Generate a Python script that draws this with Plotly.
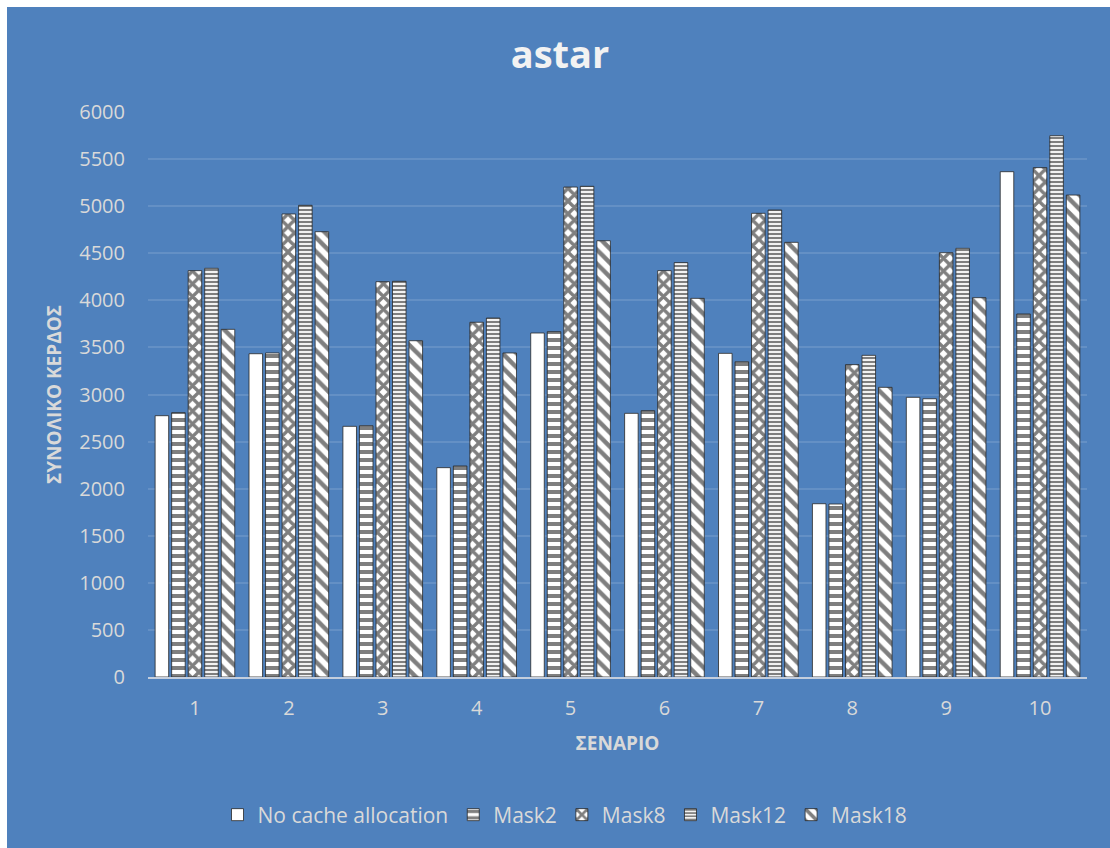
import plotly.graph_objects as go

# Scenarios on the x axis
scenarios = ["1", "2", "3", "4", "5", "6", "7", "8", "9", "10"]

# Total gain per scenario for each cache configuration
no_cache = [2775, 3433, 2662, 2223, 3653, 2800, 3437, 1840, 2970, 5366]
mask2 = [2807, 3441, 2669, 2241, 3667, 2828, 3348, 1837, 2955, 3855]
mask8 = [4315, 4917, 4198, 3767, 5203, 4315, 4924, 3317, 4506, 5409]
mask12 = [4340, 5009, 4202, 3812, 5211, 4400, 4959, 3416, 4552, 5748]
mask18 = [3692, 4729, 3571, 3441, 4633, 4021, 4616, 3076, 4028, 5118]

series_names = ["No cache allocation", "Mask2", "Mask8", "Mask12", "Mask18"]
series_values = [no_cache, mask2, mask8, mask12, mask18]

# Fill patterns for each series (shape, size, solidity)
patterns = [
    ("", 8, 0.3),
    ("-", 8, 0.5),
    ("x", 9, 0.6),
    ("-", 4, 0.55),
    ("\\", 10, 0.45),
]

BLUE = "#4F81BD"
TEXT = "#D9D9D9"
FONT = "Open Sans"

fig = go.Figure()
for name, vals, (shape, size, solid) in zip(series_names, series_values, patterns):
    fig.add_trace(go.Bar(
        name=name,
        x=scenarios,
        y=vals,
        marker=dict(
            color="white",
            line=dict(color="rgba(40,40,40,0.8)", width=1),
            pattern=dict(shape=shape, size=size, solidity=solid,
                         fgcolor="black", bgcolor="white", fillmode="overlay"),
        ),
    ))

W, H = 1110, 848
L, R, T, B = 148, 23, 112, 171
pw, ph = W - L - R, H - T - B

def px_x(p):
    return (p - L) / pw

def px_y(p):
    return (H - B - p) / ph

fig.update_layout(
    width=W, height=H,
    margin=dict(l=L, r=R, t=T, b=B, autoexpand=False),
    paper_bgcolor=BLUE,
    plot_bgcolor=BLUE,
    barmode="group",
    bargap=0.12,
    bargroupgap=0.18,
    font=dict(family=FONT, color=TEXT, size=20),
    title=dict(text="<b>astar</b>", x=560 / W, xanchor="center",
               y=1 - 55 / H, yanchor="middle",
               font=dict(family=FONT, size=38, color="#F2F2F2")),
    legend=dict(orientation="h", x=px_x(565), xanchor="center",
                y=px_y(815), yanchor="middle",
                font=dict(size=21, color=TEXT),
                itemwidth=30, tracegroupgap=0, bgcolor="rgba(0,0,0,0)"),
    xaxis=dict(
        title=dict(text="<b>ΣΕΝΑΡΙΟ</b>", font=dict(size=19, color=TEXT), standoff=17),
        showgrid=False, showline=True, linecolor="#C4CEDD", linewidth=1.5,
        ticks="outside", ticklen=12, tickcolor="rgba(0,0,0,0)",
        tickfont=dict(size=20, color=TEXT),
    ),
    yaxis=dict(
        title=dict(text="<b>ΣΥΝΟΛΙΚΟ ΚΕΡΔΟΣ</b>", font=dict(size=19, color=TEXT), standoff=12),
        range=[0, 6000], dtick=500, tickformat="d",
        showgrid=True, gridcolor="rgba(255,255,255,0.12)", gridwidth=1.5,
        zeroline=False, showline=False,
        ticks="outside", ticklen=18, tickcolor="rgba(0,0,0,0)",
        tickfont=dict(size=20, color=TEXT),
    ),
    shapes=[
        dict(type="rect", xref="paper", yref="paper", layer="above",
             x0=px_x(0), x1=px_x(7), y0=px_y(H), y1=px_y(0),
             fillcolor="white", line=dict(width=0)),
        dict(type="rect", xref="paper", yref="paper", layer="above",
             x0=px_x(0), x1=px_x(W), y0=px_y(7), y1=px_y(0),
             fillcolor="white", line=dict(width=0)),
    ],
)

fig.write_html("out.html")
